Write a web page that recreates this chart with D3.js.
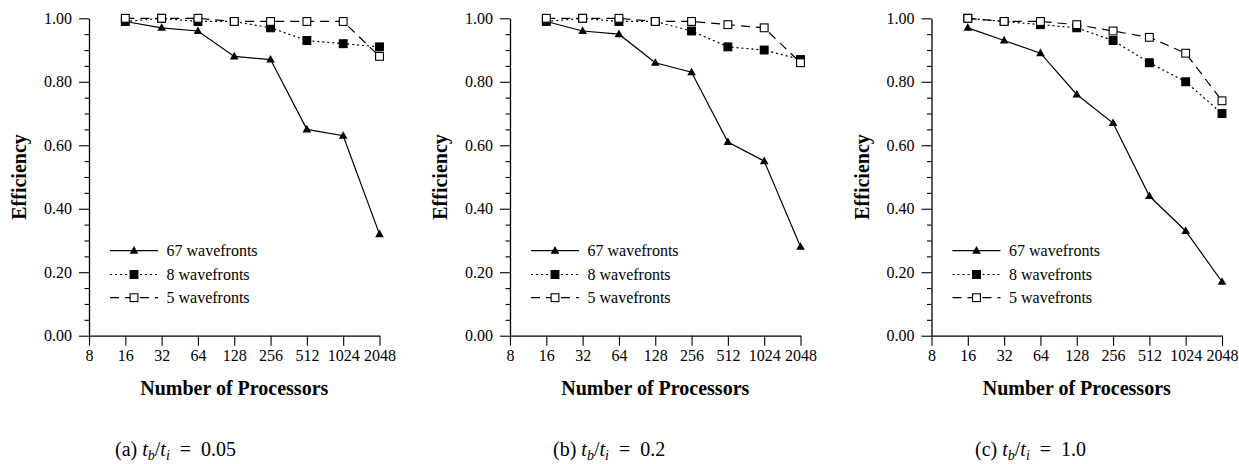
<!DOCTYPE html>
<html>
<head>
<meta charset="utf-8">
<script src="https://cdn.jsdelivr.net/npm/d3@7"></script>
</head>
<body style="margin:0">
<svg id="chart" width="1239" height="464"></svg>
<script>
// Data
const processors = [16, 32, 64, 128, 256, 512, 1024, 2048];
const xTicks = [8, 16, 32, 64, 128, 256, 512, 1024, 2048];
const yTicks = [0, 0.2, 0.4, 0.6, 0.8, 1.0];
const yMinorTicks = [0.05, 0.1, 0.15, 0.25, 0.3, 0.35, 0.45, 0.5, 0.55, 0.65, 0.7, 0.75, 0.85, 0.9, 0.95];

const seriesNames = ['67 wavefronts', '8 wavefronts', '5 wavefronts'];

const effA67 = [0.99, 0.97, 0.96, 0.88, 0.87, 0.65, 0.63, 0.32];
const effA8 = [0.99, 1.00, 0.99, 0.99, 0.97, 0.93, 0.92, 0.91];
const effA5 = [1.00, 1.00, 1.00, 0.99, 0.99, 0.99, 0.99, 0.88];

const effB67 = [0.99, 0.96, 0.95, 0.86, 0.83, 0.61, 0.55, 0.28];
const effB8 = [0.99, 1.00, 0.99, 0.99, 0.96, 0.91, 0.90, 0.87];
const effB5 = [1.00, 1.00, 1.00, 0.99, 0.99, 0.98, 0.97, 0.86];

const effC67 = [0.97, 0.93, 0.89, 0.76, 0.67, 0.44, 0.33, 0.17];
const effC8 = [1.00, 0.99, 0.98, 0.97, 0.93, 0.86, 0.80, 0.70];
const effC5 = [1.00, 0.99, 0.99, 0.98, 0.96, 0.94, 0.89, 0.74];

const captionLetters = ['a', 'b', 'c'];
const ratios = ['0.05', '0.2', '1.0'];

const panels = [
  { letter: captionLetters[0], ratio: ratios[0], series: [effA67, effA8, effA5] },
  { letter: captionLetters[1], ratio: ratios[1], series: [effB67, effB8, effB5] },
  { letter: captionLetters[2], ratio: ratios[2], series: [effC67, effC8, effC5] }
];

// Layout
const panelLeft = [89, 510, 931.5];
const plotW = 290.5;
const plotTop = 18.3, plotBottom = 335.7;
const captionX = [115, 553, 975];
const faceName = ['Liberation', 'Serif'].join(' ');
const FONT = `"${faceName}"`;

const styles = [
  { dash: null, marker: 'triangle' },
  { dash: '2,3', marker: 'filled' },
  { dash: '9,6', marker: 'open' }
];

const svg = d3.select('#chart');

const x = d3.scaleLog().base(2).domain([8, 2048]).range([0, plotW]);
const y = d3.scaleLinear().domain([0, 1]).range([plotBottom, plotTop]);

function serif(sel, size) {
  return sel.attr('font-size', size)
    .style('font-family', () => FONT);
}

function drawMarker(sel, type) {
  if (type === 'triangle') {
    sel.append('path')
      .attr('d', 'M0,-4.6L4.3,3L-4.3,3Z')
      .attr('fill', '#000');
  } else {
    sel.append('rect')
      .attr('x', -3.9).attr('y', -3.9)
      .attr('width', 7.8).attr('height', 7.8)
      .attr('fill', type === 'filled' ? '#000' : '#fff')
      .attr('stroke', '#000')
      .attr('stroke-width', 1.1);
  }
}

panels.forEach((p, pi) => {
  const g = svg.append('g').attr('transform', `translate(${panelLeft[pi]},0)`);

  // minor y ticks
  g.append('g')
    .call(d3.axisLeft(y).tickValues(yMinorTicks).tickSize(4.5).tickSizeOuter(0).tickFormat(''))
    .call(a => a.select('.domain').remove())
    .selectAll('line').attr('stroke', '#000').attr('stroke-width', 1.1);

  // major y axis
  const ya = g.append('g')
    .call(d3.axisLeft(y).tickValues(yTicks).tickSize(10).tickSizeOuter(0).tickPadding(7).tickFormat(d3.format('.2f')));
  ya.attr('font-family', null).attr('font-size', null);
  ya.selectAll('line').attr('stroke', '#000').attr('stroke-width', 1.1);
  ya.select('.domain').attr('stroke', '#000').attr('stroke-width', 1.3);
  ya.selectAll('text').call(serif, 16).attr('fill', '#000');

  // x axis
  const xa = g.append('g').attr('transform', `translate(0,${plotBottom})`)
    .call(d3.axisBottom(x).tickValues(xTicks).tickSize(10).tickSizeOuter(0).tickPadding(4).tickFormat(d3.format('d')));
  xa.attr('font-family', null).attr('font-size', null);
  xa.selectAll('line').attr('stroke', '#000').attr('stroke-width', 1.1);
  xa.select('.domain').attr('stroke', '#000').attr('stroke-width', 1.3);
  xa.selectAll('text').call(serif, 16).attr('fill', '#000');

  // axis titles
  g.append('text')
    .attr('x', plotW / 2).attr('y', 395)
    .attr('text-anchor', 'middle')
    .call(serif, 20).attr('font-weight', 'bold')
    .text('Number of Processors');

  g.append('text')
    .attr('transform', `translate(${26 - panelLeft[0]},${(plotTop + plotBottom) / 2}) rotate(-90)`)
    .attr('text-anchor', 'middle')
    .call(serif, 20).attr('font-weight', 'bold')
    .text('Efficiency');

  // series
  const line = d3.line().x((d, i) => x(processors[i])).y(d => y(d));
  p.series.forEach((vals, si) => {
    const st = styles[si];
    g.append('path')
      .datum(vals)
      .attr('d', line)
      .attr('fill', 'none')
      .attr('stroke', '#000')
      .attr('stroke-width', 1.2)
      .attr('stroke-dasharray', st.dash);
    g.selectAll(null)
      .data(vals)
      .join('g')
      .attr('transform', (d, i) => `translate(${x(processors[i])},${y(d)})`)
      .each(function () { drawMarker(d3.select(this), st.marker); });
  });

  // legend
  const leg = g.append('g').attr('transform', 'translate(21,0)');
  const rowY = [250.7, 274.5, 297.7];
  seriesNames.forEach((name, si) => {
    const st = styles[si];
    const r = leg.append('g').attr('transform', `translate(0,${rowY[si]})`);
    r.append('line')
      .attr('x1', 0).attr('x2', 48)
      .attr('stroke', '#000').attr('stroke-width', 1.2)
      .attr('stroke-dasharray', st.dash);
    drawMarker(r.append('g').attr('transform', 'translate(24,0)'), st.marker);
    r.append('text')
      .attr('x', 56.5).attr('dy', '0.35em')
      .call(serif, 16)
      .text(name);
  });

  // caption
  const cap = svg.append('text')
    .attr('x', captionX[pi]).attr('y', 456)
    .call(serif, 20)
    .style('white-space', 'pre');
  cap.append('tspan').text(`(${p.letter}) `);
  cap.append('tspan').attr('font-style', 'italic').text('t');
  cap.append('tspan').attr('font-style', 'italic').attr('font-size', 14).attr('dy', 4).text('b');
  cap.append('tspan').attr('dy', -4).text('/');
  cap.append('tspan').attr('font-style', 'italic').text('t');
  cap.append('tspan').attr('font-style', 'italic').attr('font-size', 14).attr('dy', 4).text('i');
  cap.append('tspan').attr('dy', -4).text(`  =  ${p.ratio}`);
});
</script>
</body>
</html>
